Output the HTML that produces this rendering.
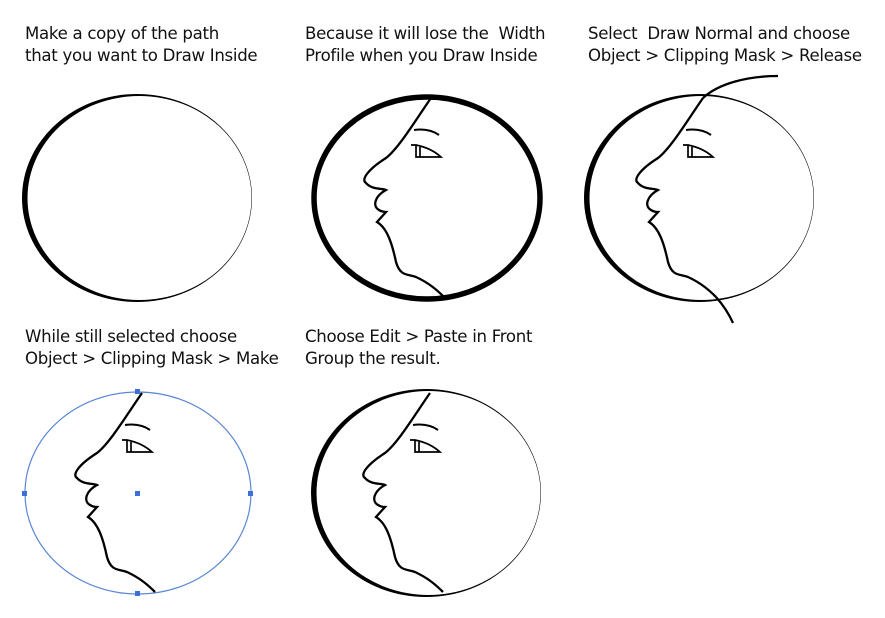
<!DOCTYPE html>
<html><head><meta charset="utf-8"><style>
html,body{margin:0;padding:0;background:#fff;}
body{width:885px;height:618px;position:relative;overflow:hidden;font-family:"DejaVu Sans","Liberation Sans",sans-serif;}
.t{position:absolute;font-size:16.6px;line-height:22px;color:#111;white-space:nowrap;letter-spacing:-0.3px;}
svg{position:absolute;left:0;top:0;}
</style></head><body>
<div class="t" style="left:25px;top:23px">Make a copy of the path<br>that you want to Draw Inside</div>
<div class="t" style="left:305px;top:23px">Because it will lose the&nbsp; Width<br>Profile when you Draw Inside</div>
<div class="t" style="left:588px;top:23px">Select&nbsp; Draw Normal and choose<br>Object &gt; Clipping Mask &gt; Release</div>
<div class="t" style="left:25px;top:326px">While still selected choose<br>Object &gt; Clipping Mask &gt; Make</div>
<div class="t" style="left:305px;top:326px">Choose Edit &gt; Paste in Front<br>Group the result.</div>
<svg width="885" height="618" viewBox="0 0 885 618">
<defs>
<g id="face" fill="none" stroke="#000" stroke-width="2.3">
<path d="M4,-100 C-10,-80 -28,-50 -41,-40 C-60,-28 -66,-18 -61,-15 C-55,-8 -45,-10 -41,-8 C-52,-2 -55,8 -48,12 C-45,14 -42,14 -41,14 L-50,24 C-40,30 -35,45 -31,64 C-27,78 -20,76 -11,79 C2,85 10,92 17,99"/>
<path d="M-13,-68 Q2,-70 12,-63" stroke-width="2"/>
<path d="M-16,-53 L-11,-53 Q4,-50 14,-41 L-11,-41 L-11,-53 M-7,-51 L-7,-41" stroke-width="1.7"/>
</g>
<path id="cres" fill="#000" fill-rule="evenodd" d="M-115,0 A115,104 0 1,0 115,0 A115,104 0 1,0 -115,0 Z M-109.5,0 A112,102 0 1,0 114.5,0 A112,102 0 1,0 -109.5,0 Z"/>
</defs>
<g transform="translate(137,198)"><use href="#cres"/></g>
<ellipse cx="427" cy="198" rx="113" ry="101" fill="none" stroke="#000" stroke-width="5.5"/>
<g transform="translate(427,198)"><use href="#face"/></g>
<g transform="translate(699,198)"><use href="#cres"/><use href="#face"/>
<path d="M4,-100 C20,-115 50,-122 79,-122 M17,99 C25,108 30,116 34,125" fill="none" stroke="#000" stroke-width="2.3"/></g>
<ellipse cx="138" cy="493" rx="113" ry="101" fill="none" stroke="#5b86d6" stroke-width="1.2"/>
<g transform="translate(138,493)"><use href="#face"/></g>
<g fill="#3d6fd8">
<rect x="135" y="389" width="5" height="5"/><rect x="135" y="591" width="5" height="5"/>
<rect x="22" y="491" width="5" height="5"/><rect x="248" y="491" width="5" height="5"/>
<rect x="135" y="491" width="5" height="5"/></g>
<g transform="translate(426,493)"><use href="#cres"/><use href="#face"/></g>
</svg>
</body></html>
